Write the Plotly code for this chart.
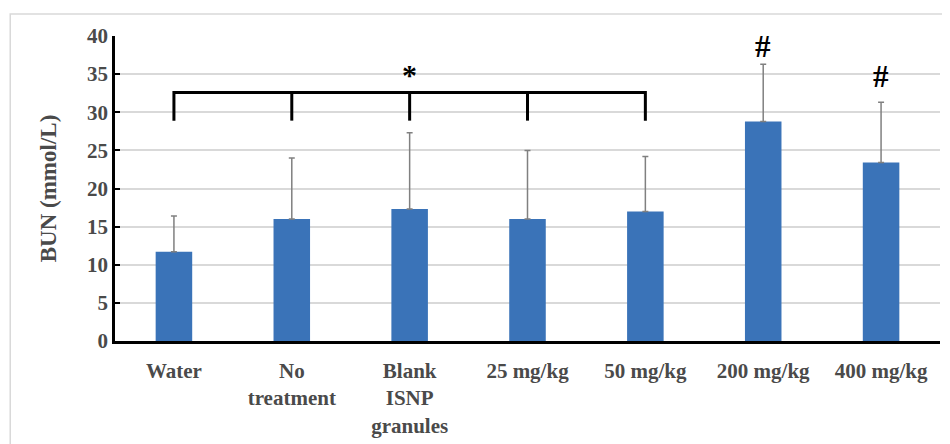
import plotly.graph_objects as go

categories = ["Water", "No<br>treatment", "Blank<br>ISNP<br>granules", "25 mg/kg", "50 mg/kg", "200 mg/kg", "400 mg/kg"]
means = [11.7, 16.0, 17.3, 16.0, 17.0, 28.8, 23.4]
sd = [4.7, 8.0, 10.0, 9.0, 7.2, 7.5, 7.9]
bracket_groups = [0, 1, 2, 3, 4]
bracket_bottom = 28.9
bracket_top = 32.6
star_y = 35.0
hash_groups = [5, 6]
hash_y = [38.6, 34.7]

font_family = "Liberation Serif"
tick_color = "#4a4a4a"

fig = go.Figure()
fig.add_trace(go.Bar(
    x=categories, y=means,
    marker=dict(color="#3a73b8", line=dict(width=0)),
    error_y=dict(type="data", array=sd, arrayminus=[0] * len(sd), symmetric=False,
                 color="#808080", thickness=1.5, width=3),
    width=0.31,
    showlegend=False,
))

# bracket
bx, by = [], []
first, last = bracket_groups[0], bracket_groups[-1]
bx += [categories[first], categories[first], categories[last], categories[last]]
by += [bracket_bottom, bracket_top, bracket_top, bracket_bottom]
for g in bracket_groups[1:-1]:
    bx += [None, categories[g], categories[g]]
    by += [None, bracket_top, bracket_bottom]
fig.add_trace(go.Scatter(x=bx, y=by, mode="lines", line=dict(color="black", width=3),
                         connectgaps=False, showlegend=False, hoverinfo="skip"))

annotations = [dict(x=categories[bracket_groups[2]], y=star_y, text="<b>*</b>", showarrow=False,
                    font=dict(family=font_family, size=30, color="black"), xref="x", yref="y")]
for g, yv in zip(hash_groups, hash_y):
    annotations.append(dict(x=categories[g], y=yv, text="<b>#</b>", showarrow=False,
                            font=dict(family=font_family, size=31, color="black"), xref="x", yref="y"))

fig.update_layout(
    width=950, height=444,
    margin=dict(l=107, r=18, t=28, b=111),
    paper_bgcolor="white", plot_bgcolor="white",
    font=dict(family=font_family),
    annotations=annotations,
    shapes=[dict(type="rect", xref="paper", yref="paper",
                 x0=-0.127, x1=1.1, y0=-0.5, y1=1.072,
                 line=dict(color="#d9d9d9", width=1.5), layer="below")],
)
fig.update_xaxes(
    showline=True, linecolor="black", linewidth=2.5,
    tickfont=dict(family=font_family, size=21, color=tick_color, weight="bold"),
    ticks="", showgrid=False, range=[-0.5, 6.5], ticklabelstandoff=9,
)
fig.update_yaxes(
    range=[0, 40], dtick=5,
    showline=True, linecolor="black", linewidth=2.5,
    ticks="inside", ticklen=5, tickwidth=2, tickcolor="black",
    showgrid=True, gridcolor="#d9d9d9", gridwidth=1.5,
    tickfont=dict(family=font_family, size=21, color=tick_color, weight="bold"),
    title=dict(text="BUN (mmol/L)", font=dict(family=font_family, size=23, color=tick_color, weight="bold"),
               standoff=24),
    zeroline=False,
)
fig.write_html("out.html")
